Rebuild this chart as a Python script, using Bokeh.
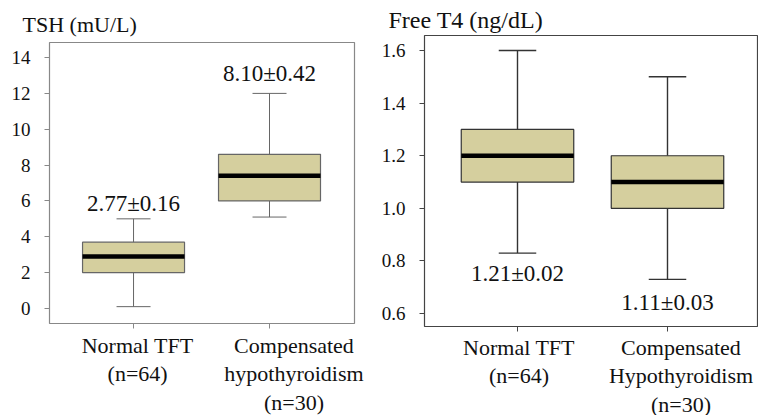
from bokeh.plotting import figure
from bokeh.layouts import row, column
from bokeh.models import FixedTicker, ColumnDataSource, PrintfTickFormatter
from bokeh.core.properties import value
from bokeh.embed import file_html
from bokeh.resources import INLINE

# ---- data ----
groups_left = ["Normal TFT\n(n=64)", "Compensated\nhypothyroidism\n(n=30)"]
groups_right = ["Normal TFT\n(n=64)", "Compensated\nHypothyroidism\n(n=30)"]
pos = [1, 2]
label_pos_left = [1.03, 2.18]
label_pos_right = [1.01, 2.09]

tsh_min = [0.1, 5.1]
tsh_q1 = [2.0, 6.0]
tsh_med = [2.9, 7.4]
tsh_q3 = [3.7, 8.6]
tsh_max = [5.0, 12.0]
tsh_text = ["2.77\u00b10.16", "8.10\u00b10.42"]
tsh_text_y = [5.85, 13.1]
tsh_ticks = [0, 2, 4, 6, 8, 10, 12, 14]

ft4_min = [0.83, 0.73]
ft4_q1 = [1.1, 1.0]
ft4_med = [1.2, 1.1]
ft4_q3 = [1.3, 1.2]
ft4_max = [1.6, 1.5]
ft4_text = ["1.21\u00b10.02", "1.11\u00b10.03"]
ft4_text_y = [0.752, 0.642]
ft4_ticks = [0.6, 0.8, 1.0, 1.2, 1.4, 1.6]

FONT = "Liberation Serif"
FILL = "#d5cf9e"


def make_panel(title, title_size, title_standoff, xlabels, label_pos, label_standoff,
               vmin, q1, med, q3, vmax,
               texts, text_y, ticks, frame_w, frame_h, x_range, y_range, borders,
               frame_color, whisk_color, whisk_w, title_offset, fmt=None):
    p = figure(frame_width=frame_w, frame_height=frame_h, x_range=x_range, y_range=y_range,
               output_backend="svg", toolbar_location=None,
               min_border_left=borders[0], min_border_right=borders[1],
               min_border_top=borders[2], min_border_bottom=borders[3])
    p.xgrid.visible = False
    p.ygrid.visible = False
    p.outline_line_color = frame_color
    p.outline_line_width = 1.2
    p.background_fill_color = "white"
    p.border_fill_color = "white"

    p.title.text = title
    p.title.text_font = FONT
    p.title.text_font_size = title_size
    p.title.text_font_style = "normal"
    p.title.text_color = "#111111"
    p.title.align = "left"
    p.title.offset = title_offset
    p.title.standoff = title_standoff

    box_w = 0.75
    cap_w = 0.25
    src = ColumnDataSource(dict(
        x=pos, lo=vmin, q1=q1, med=med, q3=q3, hi=vmax,
        x0=[v - cap_w / 2 for v in pos], x1=[v + cap_w / 2 for v in pos],
        m0=[v - box_w / 2 for v in pos], m1=[v + box_w / 2 for v in pos],
    ))
    # whiskers
    p.segment(x0="x", y0="q3", x1="x", y1="hi", source=src, line_color=whisk_color, line_width=whisk_w)
    p.segment(x0="x", y0="lo", x1="x", y1="q1", source=src, line_color=whisk_color, line_width=whisk_w)
    p.segment(x0="x0", y0="hi", x1="x1", y1="hi", source=src, line_color=whisk_color, line_width=whisk_w)
    p.segment(x0="x0", y0="lo", x1="x1", y1="lo", source=src, line_color=whisk_color, line_width=whisk_w)
    # boxes
    p.vbar(x="x", width=box_w, bottom="q1", top="q3", source=src,
           fill_color=FILL, line_color=whisk_color, line_width=1.2)
    # medians
    p.segment(x0="m0", y0="med", x1="m1", y1="med", source=src, line_color="black", line_width=4.5)

    # value annotations
    p.text(x=pos, y=text_y, text=texts, text_font=value(FONT), text_font_size="23px",
           text_align="center", text_baseline="middle", text_color="#111111")

    # x axis: tick marks at the groups (minor ticks), labels slightly right of them (major ticks)
    p.xaxis.ticker = FixedTicker(ticks=label_pos, minor_ticks=pos)
    p.xaxis.major_label_overrides = {label_pos[i]: xlabels[i] for i in range(len(pos))}
    p.xaxis.major_tick_line_color = None
    p.xaxis.major_tick_out = 0
    p.xaxis.major_tick_in = 0
    p.xaxis.minor_tick_line_color = frame_color
    p.xaxis.minor_tick_out = 5
    p.xaxis.minor_tick_in = 0
    p.xaxis.major_label_text_font_size = "22px"
    p.xaxis.major_label_text_line_height = 1.15
    p.xaxis.major_label_standoff = label_standoff

    p.yaxis.ticker = FixedTicker(ticks=ticks)
    if fmt:
        p.yaxis.formatter = PrintfTickFormatter(format=fmt)
    p.yaxis.major_tick_line_color = frame_color
    p.yaxis.major_tick_out = 5
    p.yaxis.major_tick_in = 0
    p.yaxis.minor_tick_line_color = None
    p.yaxis.major_label_text_font_size = "19px"
    p.yaxis.major_label_standoff = 14

    for ax in (p.xaxis, p.yaxis):
        ax.axis_line_color = None
        ax.major_label_text_font = FONT
        ax.major_label_text_color = "#111111"
    return p


p1 = make_panel("TSH (mU/L)", "22px", 11, groups_left, label_pos_left, 4,
                tsh_min, tsh_q1, tsh_med, tsh_q3, tsh_max,
                tsh_text, tsh_text_y, tsh_ticks, 305, 281, (0.382, 2.625), (-0.84, 14.84),
                (49, 16, 42, 80), "#888888", "#666666", 1.0, -27)
p2 = make_panel("Free T4 (ng/dL)", "24px", 6, groups_right, label_pos_right, 3,
                ft4_min, ft4_q1, ft4_med, ft4_q3, ft4_max,
                ft4_text, ft4_text_y, ft4_ticks, 333, 291, (0.38, 2.6), (0.551, 1.657),
                (54, 1, 35, 80), "#444444", "#333333", 1.4, -36, fmt="%.1f")

layout = row(column(p1), column(p2), spacing=0)
open("out.html", "w").write(file_html(layout, INLINE))
